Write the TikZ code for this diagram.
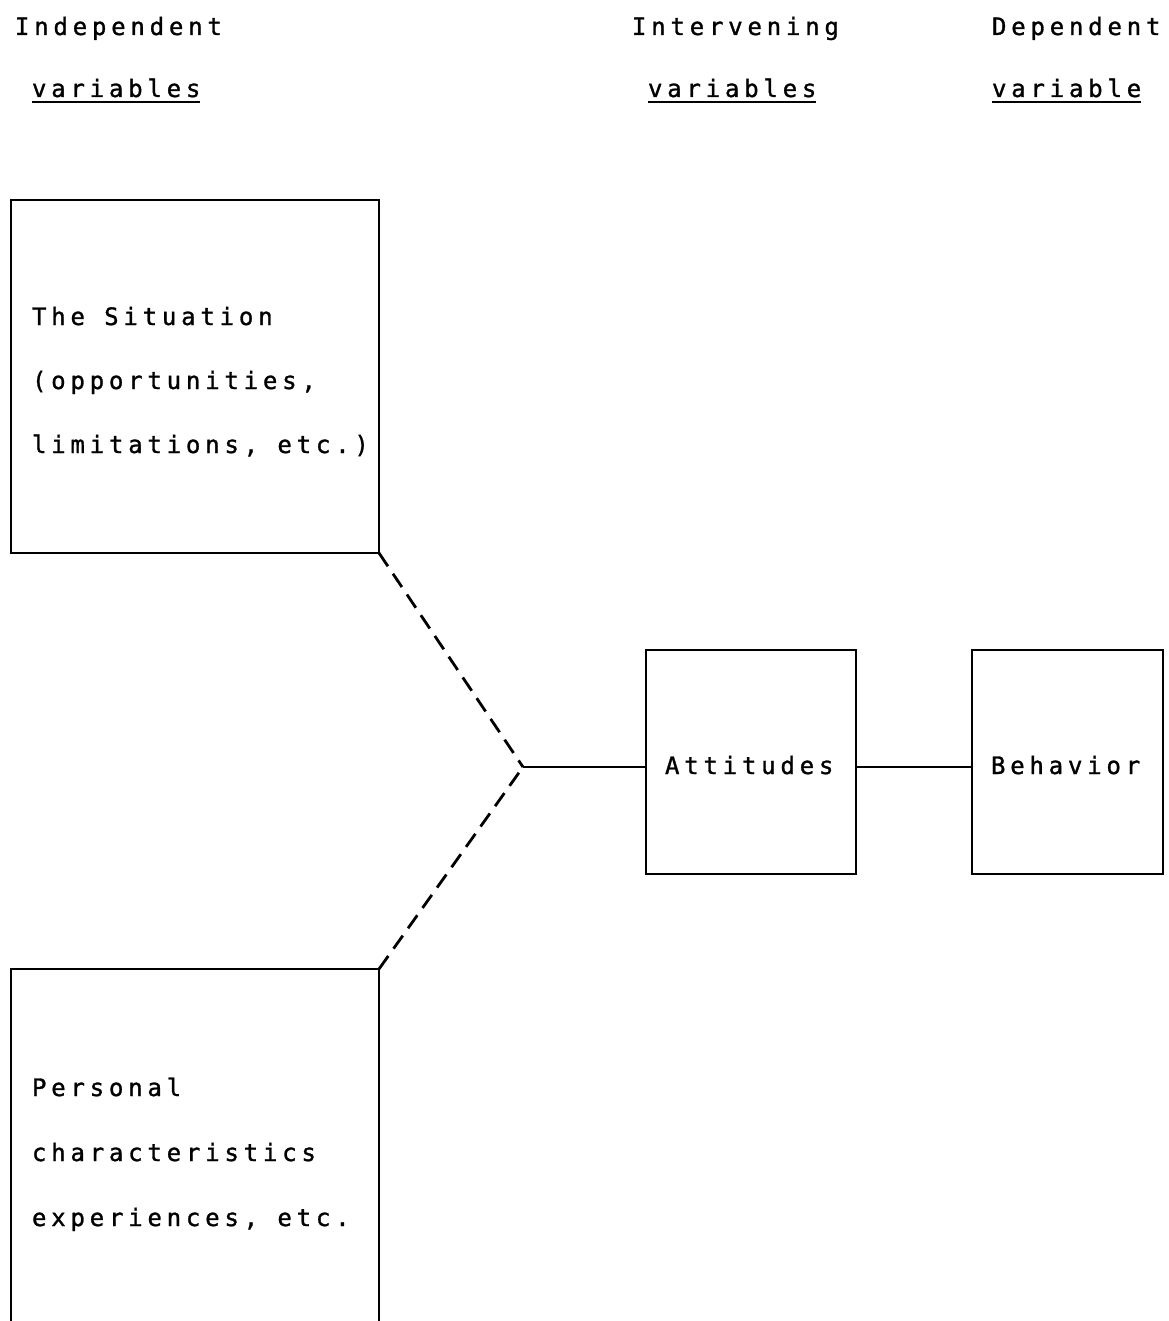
\documentclass[tikz,border=0pt]{standalone}
\usepackage{fontspec}
\newfontfamily\dotfont[LetterSpace=20,FakeBold=1.2]{DejaVu Sans Mono}
\begin{document}
\begin{tikzpicture}[x=1pt,y=-1pt,
  frame/.style={draw, line width=2.8pt, inner sep=0pt, outer sep=0pt},
  lbl/.style={anchor=base west, inner sep=0pt, outer sep=0pt, font=\dotfont\fontsize{24}{24}\selectfont},
  conn/.style={line width=2.8pt},
  dashconn/.style={line width=2.8pt, dash pattern=on 16pt off 9pt}]
\useasboundingbox (0,0) rectangle (1168,1321);
\clip (0,0) rectangle (1168,1321);
\fill[white] (0,0) rectangle (1168,1321);
% headings
\node[lbl] (h1) at (15,35) {Independent};
\node[lbl] (v1) at (32,97) {variables};
\node[lbl] (h2) at (632,35) {Intervening};
\node[lbl] (v2) at (648,97) {variables};
\node[lbl] (h3) at (992,35) {Dependent};
\node[lbl] (v3) at (992,97) {variable};
\foreach \n in {v1,v2,v3}
  \draw[line width=2.4pt] ([yshift=-5pt]\n.base west) -- ([yshift=-5pt]\n.base east);
% boxes
\node[frame, minimum width=368pt, minimum height=353pt] (S) at (195,376.5) {};
\node[frame, minimum width=368pt, minimum height=431pt] (P) at (195,1184.5) {};
\node[frame, minimum width=210pt, minimum height=224pt] (A) at (751,762) {};
\node[frame, minimum width=191pt, minimum height=224pt] (B) at (1067.5,762) {};
% box texts
\node[lbl] (s1) at (32,325) {The Situation};
\node[lbl] (s2) at (32,389) {(opportunities,};
\node[lbl] (s3) at (32,453) {limitations, etc.)};
\node[lbl] (at) at (665,774) {Attitudes};
\node[lbl] (be) at (991,774) {Behavior};
\node[lbl] (p1) at (32,1096) {Personal};
\node[lbl] (p2) at (32,1161) {characteristics};
\node[lbl] (p3) at (32,1226) {experiences, etc.};
% connectors
\coordinate (J) at (523,767);
\draw[dashconn] (S.south east) -- (J);
\draw[dashconn] (P.north east) -- (J);
\draw[conn] (J) -- (J -| A.west);
\draw[conn] (A.east |- J) -- (B.west |- J);
\end{tikzpicture}
\end{document}
